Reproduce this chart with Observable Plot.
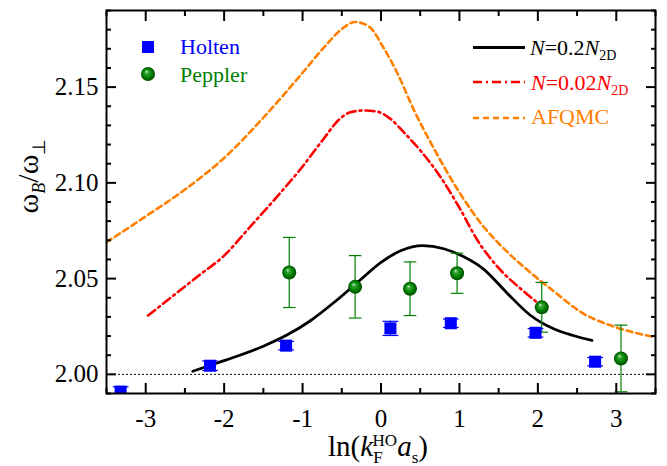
<!DOCTYPE html>
<html>
<head>
<meta charset="utf-8">
<script src="https://cdn.jsdelivr.net/npm/d3@7"></script>
<script src="https://cdn.jsdelivr.net/npm/@observablehq/plot@0.6"></script>
<style>
  html, body { margin: 0; padding: 0; background: #fff; }
  #chart { width: 667px; height: 466px; }
  #chart svg, #chart svg text, #chart svg g { font-family: "Liberation Serif", "Times New Roman", serif !important; font-variant: normal !important; }
</style>
</head>
<body>
<div id="chart"></div>
<script>
// ---------- tick labels ----------
const xTicks = [-3, -2, -1, 0, 1, 2, 3];
const xMinorTicks = [-3.5, -2.5, -1.5, -0.5, 0.5, 1.5, 2.5, 3.5];
const yTicks = [2.00, 2.05, 2.10, 2.15];
const yMinorTicks = [1.99, 2.01, 2.02, 2.03, 2.04, 2.06, 2.07, 2.08, 2.09, 2.11, 2.12, 2.13, 2.14, 2.16, 2.17, 2.18, 2.19];

// ---------- Holten (blue squares) ----------
const holtenX   = [-3.32, -2.18, -1.21, 0.12, 0.89, 1.97, 2.73];
const holtenY   = [1.9910, 2.0045, 2.0150, 2.0240, 2.0267, 2.0217, 2.0066];
const holtenErr = [0.0025, 0.0025, 0.0022, 0.0037, 0.0022, 0.0022, 0.0022];

// ---------- Peppler (green spheres) ----------
const pepplerX   = [-1.17, -0.33, 0.37, 0.97, 2.05, 3.06];
const pepplerY   = [2.0532, 2.0457, 2.0447, 2.0528, 2.0350, 2.0083];
const pepplerErr = [0.0183, 0.0163, 0.0140, 0.0105, 0.0130, 0.0174];

// ---------- N = 0.2 N2D (black solid) ----------
const n02X = [-2.40, -2.10, -1.80, -1.50, -1.20, -0.90, -0.60, -0.30, 0.00, 0.25, 0.53, 0.80, 1.05, 1.30, 1.60, 1.90, 2.20, 2.45, 2.69];
const n02Y = [2.0016, 2.0058, 2.0100, 2.0147, 2.0205, 2.0280, 2.0375, 2.0480, 2.0585, 2.0645, 2.0672, 2.0656, 2.0615, 2.0552, 2.0428, 2.0310, 2.0238, 2.0203, 2.0177];

// ---------- N = 0.02 N2D (red dash-dot) ----------
const n002X = [-2.97, -2.60, -2.31, -2.00, -1.67, -1.30, -1.03, -0.75, -0.52, -0.39, -0.22, -0.05, 0.12, 0.30, 0.50, 0.76, 1.00, 1.23, 1.49, 1.83, 2.04];
const n002Y = [2.0307, 2.0427, 2.0520, 2.0620, 2.0770, 2.0940, 2.1070, 2.1220, 2.1336, 2.1369, 2.1378, 2.1372, 2.1334, 2.1260, 2.1170, 2.1030, 2.0870, 2.0700, 2.0560, 2.0430, 2.0360];

// ---------- AFQMC (orange dashed) ----------
const afqmcX = [-3.50, -3.00, -2.50, -2.00, -1.50, -1.00, -0.70, -0.48, -0.33, -0.15, 0.04, 0.20, 0.42, 0.70, 1.00, 1.30, 1.51, 1.91, 2.20, 2.55, 2.98, 3.50];
const afqmcY = [2.0690, 2.0825, 2.0965, 2.1130, 2.1340, 2.1575, 2.1720, 2.1810, 2.1840, 2.1815, 2.1700, 2.1580, 2.1380, 2.1160, 2.0950, 2.0775, 2.0680, 2.0530, 2.0435, 2.0325, 2.0248, 2.0194];

// build tables
const holten = holtenX.map((x, i) => ({x, y: holtenY[i], e: holtenErr[i]}));
const peppler = pepplerX.map((x, i) => ({x, y: pepplerY[i], e: pepplerErr[i]}));
const n02 = n02X.map((x, i) => ({x, y: n02Y[i]}));
const n002 = n002X.map((x, i) => ({x, y: n002Y[i]}));
const afqmc = afqmcX.map((x, i) => ({x, y: afqmcY[i]}));

const FONT = "Liberation Serif, Times New Roman, serif";
const BLUE = "#0000ff", GREEN = "#008000", RED = "#ff0000", ORANGE = "#ff8000";
const fmtX = d => (d < 0 ? "-" + Math.abs(d) : String(d));

const plot = Plot.plot({
  width: 667,
  height: 466,
  marginLeft: 106,
  marginRight: 12,
  marginTop: 10,
  marginBottom: 73,
  style: {fontFamily: FONT, fontSize: "25px", color: "black", background: "white", overflow: "visible"},
  x: {domain: [-3.5, 3.5]},
  y: {domain: [1.99, 2.19]},
  marks: [
    Plot.ruleY([2.00], {stroke: "black", strokeWidth: 1, strokeDasharray: "2,2"}),
    Plot.line(afqmc, {x: "x", y: "y", stroke: ORANGE, strokeWidth: 2.6, strokeDasharray: "6,4", curve: "monotone-x", clip: true}),
    Plot.line(n002, {x: "x", y: "y", stroke: RED, strokeWidth: 2.6, strokeDasharray: "9,4,2,4", curve: "monotone-x", clip: true}),
    Plot.line(n02, {x: "x", y: "y", stroke: "black", strokeWidth: 2.8, curve: "monotone-x", clip: true}),
    // Peppler error bars
    Plot.ruleX(peppler, {x: "x", y1: d => d.y - d.e, y2: d => d.y + d.e, stroke: GREEN, strokeWidth: 1.2, clip: true}),
    Plot.link(peppler, {x1: d => d.x - 0.08, x2: d => d.x + 0.08, y1: d => d.y - d.e, y2: d => d.y - d.e, stroke: GREEN, strokeWidth: 1.2, clip: true}),
    Plot.link(peppler, {x1: d => d.x - 0.08, x2: d => d.x + 0.08, y1: d => d.y + d.e, y2: d => d.y + d.e, stroke: GREEN, strokeWidth: 1.2, clip: true}),
    Plot.dot(peppler, {x: "x", y: "y", r: 7, fill: "url(#sphereGrad)", stroke: "none", clip: true}),
    // Holten error bars
    Plot.ruleX(holten, {x: "x", y1: d => d.y - d.e, y2: d => d.y + d.e, stroke: BLUE, strokeWidth: 1.2, clip: true}),
    Plot.link(holten, {x1: d => d.x - 0.1, x2: d => d.x + 0.1, y1: d => d.y - d.e, y2: d => d.y - d.e, stroke: BLUE, strokeWidth: 1.2, clip: true}),
    Plot.link(holten, {x1: d => d.x - 0.1, x2: d => d.x + 0.1, y1: d => d.y + d.e, y2: d => d.y + d.e, stroke: BLUE, strokeWidth: 1.2, clip: true}),
    Plot.dot(holten, {x: "x", y: "y", symbol: "square", r: 6.8, fill: BLUE, stroke: "none", clip: true}),
    // axes: bottom
    Plot.axisX({ticks: xTicks, tickSize: -10, tickPadding: 26, tickFormat: fmtX, label: null, strokeWidth: 2}),
    Plot.axisX({ticks: xMinorTicks, tickSize: -5, tickFormat: () => "", label: null, strokeWidth: 2}),
    // axes: top (mirror)
    Plot.axisX({anchor: "top", ticks: xTicks, tickSize: -10, tickFormat: () => "", label: null, strokeWidth: 2}),
    Plot.axisX({anchor: "top", ticks: xMinorTicks, tickSize: -5, tickFormat: () => "", label: null, strokeWidth: 2}),
    // axes: left
    Plot.axisY({ticks: yTicks, tickSize: -10, tickPadding: 18, tickFormat: d3.format(".2f"), label: null, strokeWidth: 2}),
    Plot.axisY({ticks: yMinorTicks, tickSize: -5, tickFormat: () => "", label: null, strokeWidth: 2}),
    // axes: right (mirror)
    Plot.axisY({anchor: "right", ticks: yTicks, tickSize: -10, tickFormat: () => "", label: null, strokeWidth: 2}),
    Plot.axisY({anchor: "right", ticks: yMinorTicks, tickSize: -5, tickFormat: () => "", label: null, strokeWidth: 2}),
    Plot.frame({stroke: "black", strokeWidth: 2})
  ]
});

document.getElementById("chart").appendChild(plot);

const svg = d3.select(plot);
// make sure tick labels use the serif face
svg.selectAll("g[aria-label='x-axis tick label'], g[aria-label='y-axis tick label']")
  .attr("font-family", FONT).attr("font-variant", "normal");

// sphere gradient
const defs = svg.insert("defs", ":first-child");
const grad = defs.append("radialGradient").attr("id", "sphereGrad")
  .attr("cx", "0.5").attr("cy", "0.5").attr("r", "0.5")
  .attr("fx", "0.38").attr("fy", "0.32");
grad.append("stop").attr("offset", "0%").attr("stop-color", "#e8ffe8");
grad.append("stop").attr("offset", "22%").attr("stop-color", "#3aa83a");
grad.append("stop").attr("offset", "65%").attr("stop-color", "#008000");
grad.append("stop").attr("offset", "100%").attr("stop-color", "#004800");

// ---------- axis titles ----------
const xt = svg.append("text")
  .attr("x", 378).attr("y", 456)
  .attr("text-anchor", "middle").attr("font-family", FONT)
  .attr("font-size", 29).attr("fill", "black");
xt.append("tspan").text("ln(");
xt.append("tspan").attr("font-style", "italic").text("k");
xt.append("tspan").attr("font-size", 17).attr("dy", 7).text("F");
xt.append("tspan").attr("font-size", 17).attr("dx", -10).attr("dy", -17).text("HO");
xt.append("tspan").attr("font-style", "italic").attr("dy", 10).text("a");
xt.append("tspan").attr("font-size", 17).attr("dy", 7).text("s");
xt.append("tspan").attr("dy", -7).text(")");

const yt = svg.append("text")
  .attr("transform", "translate(38,176) rotate(-90)")
  .attr("text-anchor", "middle").attr("font-family", FONT)
  .attr("font-size", 30).attr("fill", "black");
yt.append("tspan").text("ω");
yt.append("tspan").attr("font-size", 18).attr("font-style", "italic").attr("dy", 7).text("B");
yt.append("tspan").attr("dy", -7).text("/ω");
yt.append("tspan").attr("font-size", 18).attr("dy", 7).text("⊥");

// ---------- legend (left) ----------
const lg = svg.append("g").attr("font-size", 22).attr("text-anchor", "start").attr("font-family", FONT);
lg.append("rect").attr("x", 142).attr("y", 41).attr("width", 12).attr("height", 12).attr("fill", BLUE);
lg.append("text").attr("x", 180).attr("y", 53.5).attr("fill", BLUE).text("Holten");
lg.append("circle").attr("cx", 148).attr("cy", 74).attr("r", 7).attr("fill", "url(#sphereGrad)");
lg.append("text").attr("x", 180).attr("y", 81.5).attr("fill", GREEN).text("Peppler");

// ---------- legend (right) ----------
const rg = svg.append("g").attr("font-size", 22).attr("text-anchor", "start").attr("font-family", FONT);
rg.append("line").attr("x1", 473).attr("x2", 525).attr("y1", 47.5).attr("y2", 47.5).attr("stroke", "black").attr("stroke-width", 2.8);
const t1 = rg.append("text").attr("x", 530).attr("y", 55).attr("fill", "black");
t1.append("tspan").attr("font-style", "italic").text("N");
t1.append("tspan").text("=0.2");
t1.append("tspan").attr("font-style", "italic").text("N");
t1.append("tspan").attr("font-size", 14).attr("dy", 5).text("2D");

rg.append("line").attr("x1", 473).attr("x2", 525).attr("y1", 82).attr("y2", 82).attr("stroke", RED).attr("stroke-width", 2.6).attr("stroke-dasharray", "9,4,2,4");
const t2 = rg.append("text").attr("x", 531).attr("y", 90).attr("fill", RED);
t2.append("tspan").attr("font-style", "italic").text("N");
t2.append("tspan").text("=0.02");
t2.append("tspan").attr("font-style", "italic").text("N");
t2.append("tspan").attr("font-size", 14).attr("dy", 5).text("2D");

rg.append("line").attr("x1", 473).attr("x2", 525).attr("y1", 118).attr("y2", 118).attr("stroke", ORANGE).attr("stroke-width", 2.6).attr("stroke-dasharray", "6,4");
rg.append("text").attr("x", 531).attr("y", 123.5).attr("fill", ORANGE).text("AFQMC");
</script>
</body>
</html>
